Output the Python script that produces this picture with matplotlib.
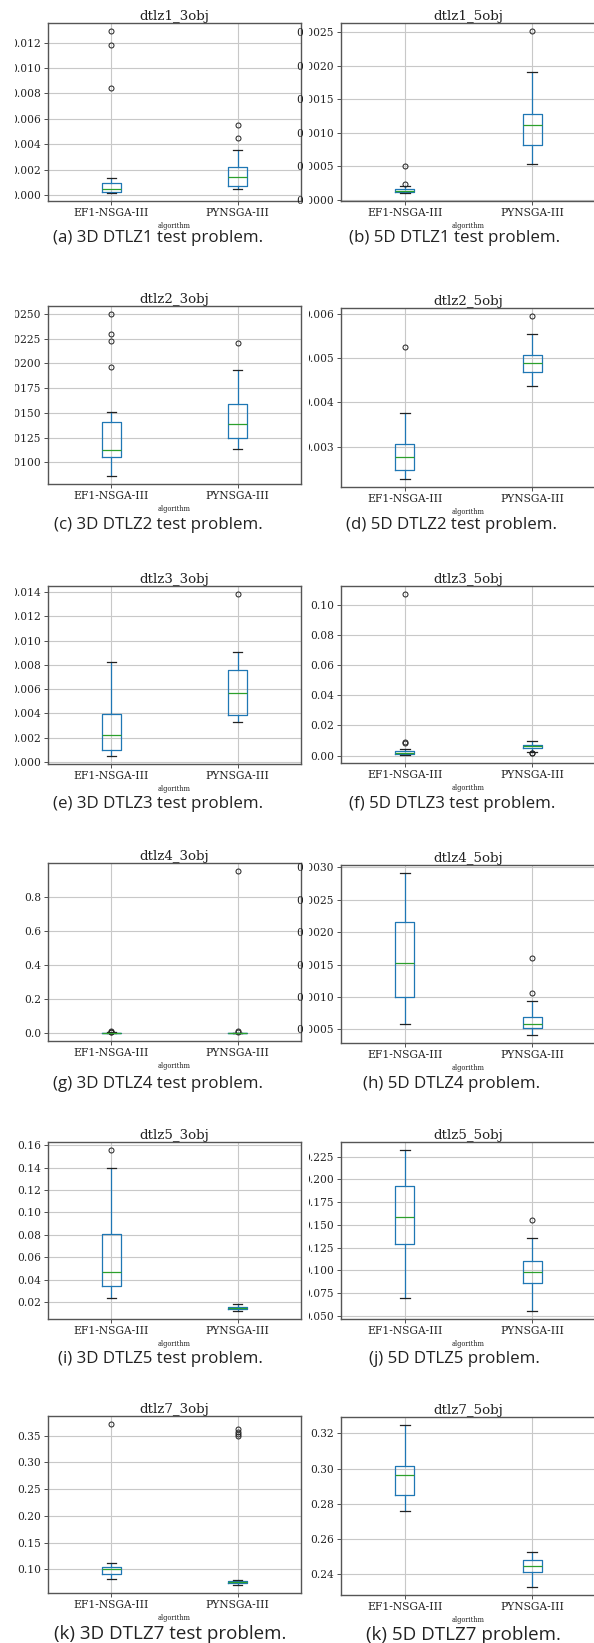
import matplotlib
matplotlib.use('Agg')
import matplotlib.pyplot as plt
from matplotlib.ticker import MultipleLocator
from matplotlib.patches import Rectangle

# ---------------- data ----------------
algorithms = ['EF1-NSGA-III', 'PYNSGA-III']
problems = ['dtlz1_3obj', 'dtlz1_5obj', 'dtlz2_3obj', 'dtlz2_5obj',
            'dtlz3_3obj', 'dtlz3_5obj', 'dtlz4_3obj', 'dtlz4_5obj',
            'dtlz5_3obj', 'dtlz5_5obj', 'dtlz7_3obj', 'dtlz7_5obj']
captions = ['(a) 3D DTLZ1 test problem.', '(b) 5D DTLZ1 test problem.',
            '(c) 3D DTLZ2 test problem.', '(d) 5D DTLZ2 test problem.',
            '(e) 3D DTLZ3 test problem.', '(f) 5D DTLZ3 test problem.',
            '(g) 3D DTLZ4 test problem.', '(h) 5D DTLZ4 problem.',
            '(i) 3D DTLZ5 test problem.', '(j) 5D DTLZ5 problem.',
            '(k) 3D DTLZ7 test problem.', '(k) 5D DTLZ7 problem.']

# EF1-NSGA-III box statistics
ef1_whislo = [0.00016, 0.000103, 0.00862, 0.002272, 0.00049, 0.0004, 0.0003, 0.000582, 0.0235, 0.0690, 0.0815, 0.2761]
ef1_q1     = [0.00024, 0.000118, 0.01057, 0.002468, 0.00101, 0.0010, 0.0008, 0.000992, 0.0345, 0.1293, 0.0914, 0.2852]
ef1_med    = [0.00047, 0.000138, 0.01121, 0.002775, 0.00221, 0.0018, 0.0015, 0.001519, 0.0466, 0.1589, 0.1000, 0.2963]
ef1_q3     = [0.00095, 0.000163, 0.01403, 0.003068, 0.00391, 0.0029, 0.0025, 0.002155, 0.0809, 0.1925, 0.1037, 0.3014]
ef1_whishi = [0.00132, 0.000202, 0.01510, 0.003758, 0.00826, 0.0042, 0.0040, 0.002913, 0.1396, 0.2324, 0.1129, 0.3247]
ef1_fliers = [[0.01292, 0.01184, 0.00847], [0.000497, 0.000241],
              [0.0250, 0.02295, 0.02225, 0.01966], [0.005243],
              [], [0.1072, 0.0085, 0.0090], [0.008, 0.010, 0.007], [],
              [0.1556], [], [0.3716], []]

# PYNSGA-III box statistics
py_whislo = [0.00047, 0.000527, 0.01138, 0.004365, 0.00328, 0.0025, 0.0002, 0.000413, 0.0120, 0.0551, 0.0711, 0.2328]
py_q1     = [0.00071, 0.000818, 0.01242, 0.004680, 0.00386, 0.0053, 0.0005, 0.000515, 0.0135, 0.0855, 0.0748, 0.2415]
py_med    = [0.00142, 0.001123, 0.01383, 0.004898, 0.00566, 0.0061, 0.0010, 0.000577, 0.0150, 0.0979, 0.0766, 0.2445]
py_q3     = [0.00221, 0.001286, 0.01591, 0.005070, 0.00755, 0.0072, 0.0015, 0.000690, 0.0159, 0.1103, 0.0778, 0.2481]
py_whishi = [0.00353, 0.001911, 0.01936, 0.005550, 0.00908, 0.0099, 0.0025, 0.000935, 0.0179, 0.1352, 0.0797, 0.2524]
py_fliers = [[0.0055, 0.00447], [0.002517], [0.02211], [0.005948],
             [0.01384], [0.0018, 0.0016], [0.95, 0.014, 0.007], [0.001601, 0.001058],
             [], [0.1549], [0.3617, 0.3574, 0.3531, 0.3500], []]

ytick_steps = [0.002, 0.0005, 0.0025, 0.001, 0.002, 0.02, 0.2, 0.0005, 0.02, 0.025, 0.05, 0.02]

# ---------------- layout (pixels) ----------------
W, H = 594, 1643
# (left, top, width, bottom)
axes_px = [(48, 23, 253, 201), (341, 23, 255, 201),
           (48, 306, 253, 484), (341, 308, 255, 487),
           (48, 586, 253, 764), (341, 586, 255, 763),
           (48, 863, 253, 1041), (341, 865, 255, 1043),
           (48, 1142, 253, 1319), (341, 1142, 255, 1319),
           (48, 1416, 253, 1593), (341, 1417, 255, 1595)]
caption_px = [(158, 238), (455, 238), (158, 525), (452, 525),
              (158, 804), (452, 804), (158, 1084), (452, 1084),
              (160, 1359), (454, 1359), (170, 1634), (463, 1635)]
caption_size = [12.2] * 10 + [13.5, 13.5]

fig = plt.figure(figsize=(W / 100, H / 100), dpi=100)
fig.patch.set_facecolor('white')

serif = 'DejaVu Serif'
box_c = '#1f77b4'
med_c = '#2ca02c'

for i, name in enumerate(problems):
    l, t, w, b = axes_px[i]
    ax = fig.add_axes([l / W, 1 - b / H, w / W, (b - t) / H])
    stats = [
        dict(med=ef1_med[i], q1=ef1_q1[i], q3=ef1_q3[i], whislo=ef1_whislo[i],
             whishi=ef1_whishi[i], fliers=ef1_fliers[i], label=algorithms[0]),
        dict(med=py_med[i], q1=py_q1[i], q3=py_q3[i], whislo=py_whislo[i],
             whishi=py_whishi[i], fliers=py_fliers[i], label=algorithms[1]),
    ]
    ax.bxp(stats, positions=[1, 2], widths=0.15,
           boxprops=dict(color=box_c, linewidth=0.9),
           whiskerprops=dict(color=box_c, linewidth=0.9),
           capprops=dict(color='#222222', linewidth=0.9),
           medianprops=dict(color=med_c, linewidth=0.9),
           flierprops=dict(marker='o', markerfacecolor='none',
                           markeredgecolor='#222222', markersize=3.6,
                           markeredgewidth=0.7))
    ax.set_xlim(0.5, 2.5)
    ax.yaxis.set_major_locator(MultipleLocator(ytick_steps[i]))
    ax.grid(True, color='#c8c8c8', linewidth=0.8)
    ax.set_axisbelow(True)
    for sp in ax.spines.values():
        sp.set_color('#555555')
        sp.set_linewidth(1.0)
    ax.tick_params(labelsize=7.7, length=2.7, pad=2.4, width=0.6,
                   color='#333333', labelcolor='#222222')
    for lab in ax.get_xticklabels() + ax.get_yticklabels():
        lab.set_family(serif)
    ax.set_title(name, fontsize=9.6, family=serif, pad=1.5, color='#222222')
    ax.set_xlabel('algorithm', fontsize=4.8, family=serif, labelpad=2.5,
                  color='#222222')

    cx, cy = caption_px[i]
    fig.text(cx / W, 1 - cy / H, captions[i], ha='center', va='center',
             fontsize=caption_size[i], family='Open Sans', color='#222222')

# crop masks emulating the cut sub-figure edges
fig.add_artist(Rectangle((0, 0), 15 / W, 1, transform=fig.transFigure,
                         facecolor='white', edgecolor='none', zorder=5))
fig.add_artist(Rectangle((303 / W, 0), 6 / W, 1, transform=fig.transFigure,
                         facecolor='white', edgecolor='none', zorder=5))

fig.savefig('out.png', dpi=100, facecolor='white')
